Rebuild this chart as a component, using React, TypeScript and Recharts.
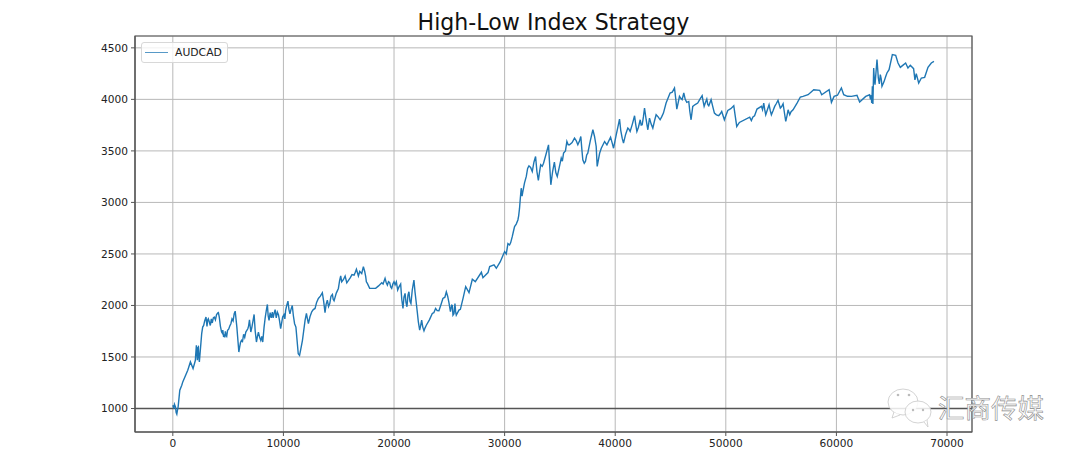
import { LineChart, Line, XAxis, YAxis, CartesianGrid, Legend, ReferenceLine, ReferenceArea } from "recharts"

const BLUE = "#1f77b4"
const FONT = "'DejaVu Sans', sans-serif"

const xTicks = [0, 10000, 20000, 30000, 40000, 50000, 60000, 70000]
const yTicks = [1000, 1500, 2000, 2500, 3000, 3500, 4000, 4500]
const xDomain = [-3420, 72260]
const yDomain = [772, 4615]

const steps = [
  0, 90, 240, 360, 480, 630, 810, 900, 1350, 1590, 1830, 2040, 2130, 2220, 2310, 2400, 2610, 2790, 3000, 3090,
  3210, 3390, 3750, 4050, 4200, 4410, 4590, 4800, 4950, 5250, 5640, 5790, 5970, 6210, 6600, 6780, 6930, 7050, 7350, 7560,
  7740, 7950, 8130, 8250, 8550, 8700, 9000, 9150, 9450, 9750, 9930, 10200, 10410, 10590, 10800, 11010, 11130, 11340, 11460, 11610,
  11720, 11960, 12080, 12260, 12560, 12860, 13160, 13520, 13760, 13970, 14190, 14430, 14580, 14970, 15180, 15270, 15580, 15730, 16390, 16600,
  16780, 17230, 17440, 17590, 17800, 18340, 18890, 19010, 19190, 19400, 19610, 19790, 20000, 20210, 20330, 20600, 20810, 21000, 21170, 21350,
  21530, 21800, 22000, 22200, 22320, 22500, 22710, 22920, 23460, 23760, 24060, 24420, 24730, 24970, 25210, 25330, 25510, 25630, 25870, 26000,
  26240, 26480, 26780, 27080, 27350, 27900, 28040, 28500, 28650, 29040, 29250, 29610, 30000, 30450, 30690, 30900, 31200, 31350, 31500, 31650,
  31960, 32200, 32500, 32800, 33050, 33260, 33520, 33970, 34180, 34500, 34760, 35120, 35330, 35630, 35870, 36320, 36620, 36890, 37070, 37310,
  37520, 37980, 38280, 38370, 38590, 38740, 39040, 39250, 39580, 39730, 39850, 40090, 40390, 40630, 40750, 41140, 41350, 41750, 41960, 42260,
  42440, 42650, 42950, 43100, 43400, 43700, 44060, 44360, 44600, 44960, 45360, 45570, 45810, 46050, 46200, 46470, 46650, 46860, 47010, 47460,
  47860, 48040, 48280, 48460, 48670, 48970, 49360, 49630, 49870, 50180, 50720, 50990, 51230, 52160, 52310, 52600, 52820, 53220, 53430, 53610,
  53910, 54120, 54420, 54720, 54930, 55180, 55420, 55630, 55780, 56080, 56440, 56740, 56980, 57440, 57950, 58490, 58670, 59340, 59550, 59790,
  60450, 60660, 61360, 61860, 62100, 62650, 63000, 63190, 63250, 63300, 63370, 63490, 63670, 63790, 63970, 64120, 64570, 64760, 65060, 65360,
  65570, 65780, 66260, 66470, 66680, 66980, 67220, 67440, 67680, 67980, 68280, 68580, 68820,
]

const equity = [
  1032, 1000, 1016, 945, 1016, 1177, 1226, 1258, 1371, 1452, 1387, 1468, 1613, 1468, 1597, 1452, 1726, 1806, 1887, 1797,
  1871, 1806, 1887, 1926, 1887, 1742, 1694, 1710, 1758, 1823, 1945, 1790, 1548, 1661, 1742, 1774, 1861, 1742, 1913, 1645,
  1742, 1661, 1645, 1790, 2010, 1855, 1935, 1919, 1935, 1774, 1887, 1952, 2042, 1919, 2000, 1823, 1790, 1532, 1516, 1597,
  1662, 1857, 1922, 1825, 1938, 1971, 2068, 2123, 1929, 2052, 2019, 2107, 2045, 2165, 2286, 2230, 2286, 2220, 2295, 2351,
  2286, 2377, 2279, 2214, 2166, 2166, 2221, 2208, 2263, 2198, 2221, 2166, 2230, 2230, 2150, 2208, 1971, 2117, 1987, 2133,
  2019, 2247, 2036, 1841, 1760, 1857, 1753, 1808, 1922, 1971, 1948, 2068, 2133, 2026, 2003, 1906, 2019, 1906, 1955, 1962,
  2069, 2182, 2124, 2254, 2231, 2322, 2270, 2319, 2377, 2393, 2361, 2425, 2523, 2587, 2668, 2766, 2830, 2944, 3138, 3106,
  3252, 3355, 3300, 3446, 3213, 3365, 3381, 3559, 3171, 3391, 3252, 3430, 3478, 3592, 3559, 3624, 3559, 3640, 3414, 3397,
  3478, 3705, 3543, 3349, 3477, 3526, 3591, 3558, 3633, 3575, 3526, 3656, 3808, 3623, 3575, 3721, 3688, 3841, 3688, 3802,
  3753, 3916, 3705, 3818, 3721, 3851, 3802, 3867, 3964, 4062, 4110, 3906, 4029, 3997, 4062, 3971, 3980, 3802, 3932, 3964,
  4036, 3932, 4003, 3938, 3997, 3867, 3841, 3883, 3802, 3893, 3938, 3737, 3776, 3828, 3795, 3841, 3906, 3932, 3964, 3851,
  3948, 3851, 3932, 3990, 3916, 3958, 3786, 3899, 3851, 3899, 3964, 4023, 4029, 4045, 4094, 4088, 4045, 4094, 3971, 4029,
  4110, 4045, 4029, 4039, 3974, 4029, 4045, 3964, 4126, 3955, 4305, 4143, 4386, 4207, 4240, 4126, 4256, 4288, 4434, 4428,
  4353, 4311, 4353, 4305, 4330, 4298, 4250, 4159, 4207, 4214, 4311, 4353, 4369,
]

// the smaller wiggles between the main turning points
const wiggleSteps = [
  150, 300, 420, 2060, 2170, 2260, 2350, 2700, 2880, 3150, 3300, 3480, 3570, 3660, 3850, 3950, 4120, 4300, 4480, 4520,
  4650, 4700, 4750, 4870, 5050, 5150, 5350, 5450, 5550, 6050, 6120, 6300, 6400, 6500, 6850, 7150, 7250, 7450, 7650, 7850,
  8040, 8350, 8450, 8620, 8800, 8900, 9070, 9250, 9350, 9550, 9650, 9840, 10050, 10130, 10300, 10500, 10680, 10900, 12170, 12400,
  12700, 13000, 13340, 13640, 13860, 14080, 14300, 14500, 14780, 15080, 15420, 16050, 16200, 16490, 16900, 17080, 17350, 17500, 18600, 19300,
  19500, 19700, 19900, 20100, 20270, 20450, 20700, 20900, 21080, 21260, 21440, 21650, 21900, 22100, 22400, 22600, 22800, 23200, 23600, 23900,
  24250, 24600, 24850, 25100, 25270, 25420, 25570, 25750, 30150, 30300, 30550, 30800, 31050, 31270, 31420, 31580, 31800, 32080, 32350, 32650,
  32920, 33150, 33400, 33750, 34080, 34340, 34630, 34940, 35220, 35500, 35750, 36100, 36470, 36750, 36980, 37200, 37420, 37750, 38130, 40240,
  40500, 40940, 41240, 41550, 41850, 42100, 42350, 42550, 42800, 43250, 43550, 43880, 44200, 45160, 45480, 45700, 45930, 46330, 46750, 47230,
  47650, 47950, 48160, 48370, 48820, 49150, 49500, 50000, 50450, 50850, 52450, 53320, 53520, 53760, 54020, 54270, 54570, 55050, 55300, 55530,
  55900, 60100, 61000, 63080, 63150, 63220, 63420, 63570, 63730, 63880, 64050, 64300, 64450, 66000, 67100,
]

const wiggleEquity = [
  1040, 960, 985, 1510, 1540, 1590, 1500, 1790, 1850, 1860, 1840, 1870, 1830, 1880, 1860, 1910, 1930, 1800, 1730, 1760,
  1720, 1690, 1750, 1700, 1770, 1800, 1870, 1850, 1920, 1600, 1640, 1650, 1720, 1690, 1800, 1790, 1850, 1750, 1700, 1690,
  1700, 1880, 1950, 1900, 1930, 1880, 1880, 1960, 1880, 1910, 1850, 1830, 1910, 1870, 2000, 1960, 1960, 1900, 1870, 1890,
  1960, 2030, 2090, 2040, 2010, 1990, 2090, 2060, 2120, 2240, 2250, 2270, 2300, 2320, 2330, 2310, 2330, 2230, 2190, 2220,
  2230, 2180, 2210, 2200, 2190, 2180, 2060, 2080, 2030, 2100, 2040, 2150, 2130, 1940, 1800, 1790, 1780, 1860, 1930, 1950,
  2010, 2080, 2090, 1940, 2000, 1920, 1940, 1930, 2500, 2600, 2610, 2720, 2790, 2870, 3040, 3060, 3190, 3330, 3340, 3390,
  3300, 3290, 3350, 3470, 3350, 3300, 3290, 3340, 3400, 3500, 3560, 3580, 3600, 3590, 3520, 3380, 3460, 3600, 3640, 3730,
  3700, 3660, 3710, 3760, 3760, 3730, 3750, 3830, 3800, 3760, 3790, 3830, 3830, 4070, 4000, 3970, 4010, 4000, 3880, 3950,
  4000, 3980, 3970, 3950, 3930, 3850, 3860, 3840, 3910, 3840, 3830, 3900, 3900, 3900, 3890, 3890, 3960, 3930, 3870, 3840,
  3880, 4040, 4030, 4000, 4040, 4000, 4210, 4250, 4300, 4150, 4200, 4170, 4220, 4330, 4190,
]

const rows = [
  ...steps.map((x, i) => ({ x, AUDCAD: equity[i] })),
  ...wiggleSteps.map((x, i) => ({ x, AUDCAD: wiggleEquity[i] })),
].sort((a, b) => a.x - b.x)

function LegendBox() {
  return (
    <div
      style={{
        width: 85,
        height: 19,
        border: "1px solid #d8d8d8",
        borderRadius: 3,
        background: "rgba(255,255,255,0.8)",
        boxSizing: "content-box",
        position: "relative",
        fontFamily: FONT,
        fontSize: 10.8,
        color: "#222",
      }}
    >
      <div style={{ position: "absolute", left: 3, top: 9, width: 23, height: 1, background: BLUE, opacity: 0.75 }} />
      <span style={{ position: "absolute", left: 33, top: 3, lineHeight: "13px" }}>AUDCAD</span>
    </div>
  )
}

function Watermark() {
  return (
    <div style={{ position: "absolute", left: 885, top: 385, width: 170, height: 50 }}>
      <svg width={60} height={50} style={{ position: "absolute", left: 0, top: 0 }}>
        <g fill="rgba(255,255,255,0.85)" stroke="#c8c8c8" strokeWidth={0.8}>
          <ellipse cx={18} cy={17} rx={15} ry={13} />
          <path d="M9 27 L7 33 L15 30" />
          <ellipse cx={33} cy={27} rx={13} ry={11} />
          <path d="M39 37 L43 42 L42 35" />
        </g>
        <g fill="#bbb">
          <circle cx={13} cy={10} r={1.3} />
          <circle cx={24} cy={10} r={1.3} />
          <circle cx={28} cy={25} r={1.2} />
          <circle cx={38} cy={25} r={1.2} />
        </g>
      </svg>
      <span
        style={{
          position: "absolute",
          left: 53,
          top: 6,
          fontFamily: "'Noto Sans CJK SC', sans-serif",
          fontSize: 26.5,
          lineHeight: "32px",
          whiteSpace: "nowrap",
          color: "#fff",
          WebkitTextStroke: "0.6px #8c8c8c",
        }}
      >
        汇商传媒
      </span>
    </div>
  )
}

export default function App() {
  return (
    <div style={{ position: "fixed", left: 0, top: 0, width: 1080, height: 456, background: "#fff", overflow: "hidden" }}>
      <div
        style={{
          position: "absolute",
          left: 0,
          right: 0,
          top: 9,
          paddingLeft: 27,
          textAlign: "center",
          fontFamily: FONT,
          fontSize: 22.1,
          lineHeight: "26px",
          color: "#111",
        }}
      >
        High-Low Index Strategy
      </div>
      <LineChart width={1080} height={456} data={rows} margin={{ top: 36, right: 108, bottom: 0, left: 85 }}>
        <CartesianGrid stroke="#b8b8b8" strokeWidth={1} />
        <XAxis
          dataKey="x"
          type="number"
          domain={xDomain}
          ticks={xTicks}
          allowDataOverflow
          height={24}
          tickSize={4}
          tickMargin={3}
          stroke="#555"
          tick={{ fontSize: 10.6, fontFamily: FONT, fill: "#222" }}
        />
        <YAxis
          type="number"
          domain={yDomain}
          ticks={yTicks}
          allowDataOverflow
          width={50}
          tickSize={4}
          tickMargin={3}
          stroke="#555"
          tick={{ fontSize: 10.6, fontFamily: FONT, fill: "#222" }}
        />
        <ReferenceArea x1={xDomain[0]} x2={xDomain[1]} y1={yDomain[0]} y2={yDomain[1]} fill="none" stroke="#555" strokeWidth={1.2} />
        <ReferenceLine y={1000} stroke="#555" strokeWidth={1.5} />
        <Legend
          layout="horizontal"
          verticalAlign="middle"
          content={<LegendBox />}
          wrapperStyle={{ left: 141, top: 42, width: 87, height: 21, bottom: "auto" }}
        />
        <Line dataKey="AUDCAD" type="linear" stroke={BLUE} strokeWidth={1.4} dot={false} isAnimationActive={false} />
      </LineChart>
      <Watermark />
    </div>
  )
}
